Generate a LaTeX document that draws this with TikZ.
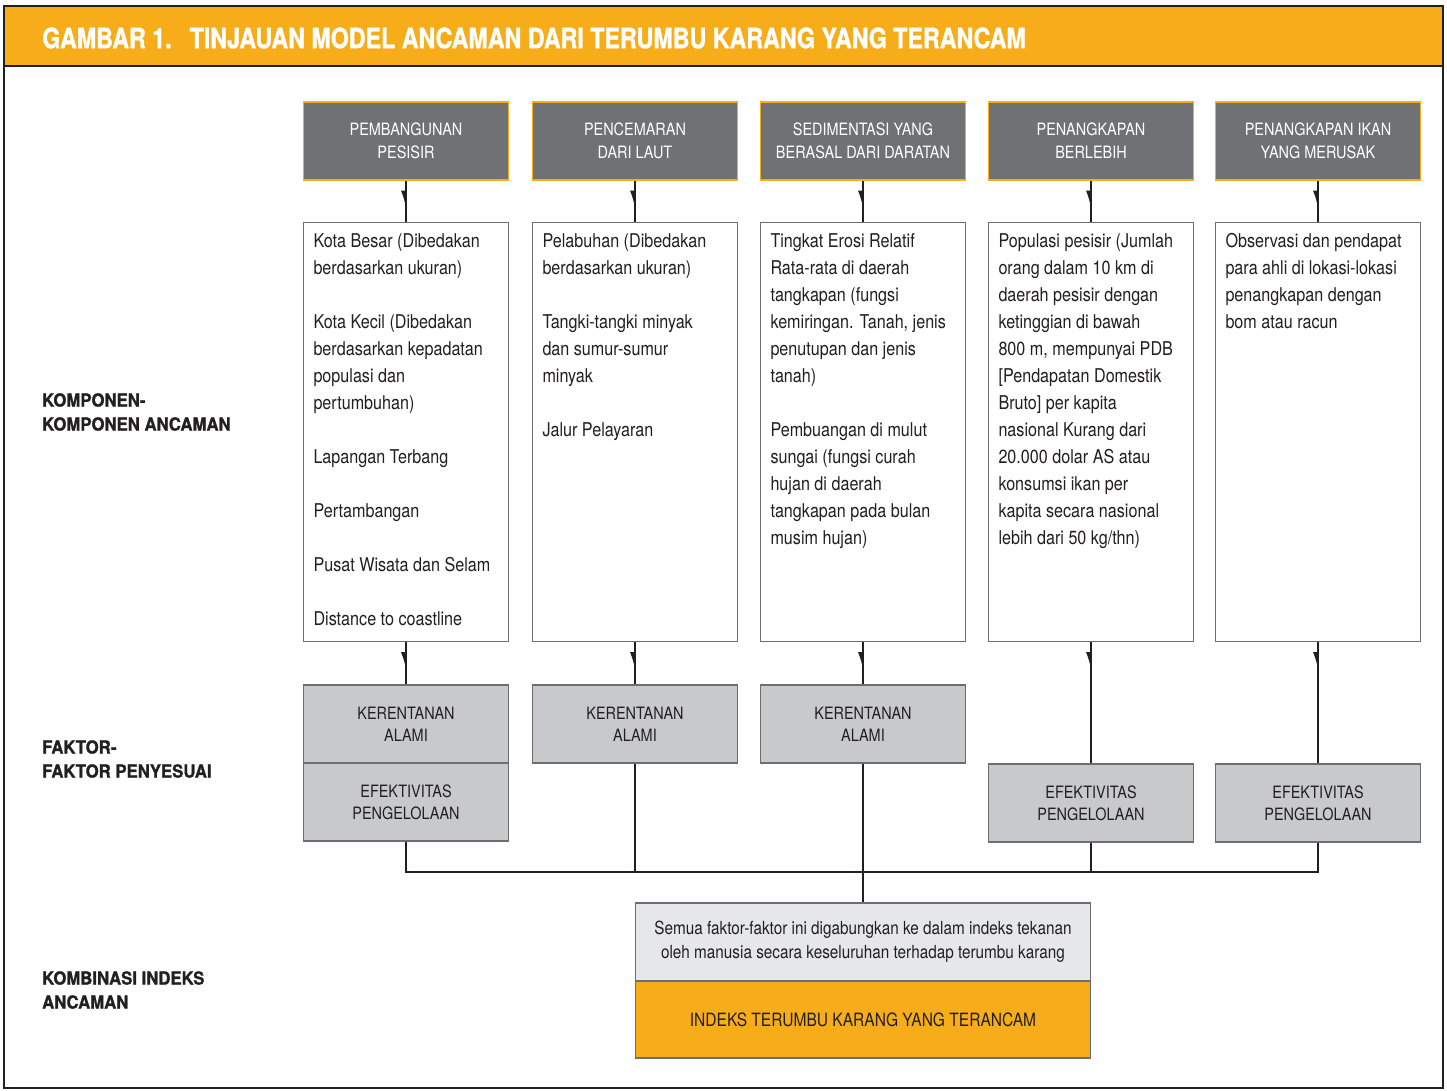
\documentclass[tikz,border=0pt]{standalone}
\usepackage{fontspec}
\setmainfont{TeX Gyre Heros}[FakeStretch=0.85]
\newfontfamily\heavyfont{TeX Gyre Heros}[FakeStretch=0.93,FakeBold=1.2]
\newfontfamily\titlefont{TeX Gyre Heros}[FakeStretch=0.83,FakeBold=1.2]
\usetikzlibrary{arrows.meta,decorations.markings,positioning}

\definecolor{bandorange}{HTML}{F7AD1A}
\definecolor{hdrgray}{HTML}{707174}
\definecolor{boxgray}{HTML}{C8C9CB}
\definecolor{notegray}{HTML}{E6E7E8}
\definecolor{inkdark}{HTML}{231F20}
\definecolor{linegray}{HTML}{6D6E71}

\newcommand{\coltext}[1]{\parbox[c][401pt][t]{185pt}{\vspace*{2pt}\raggedright #1}}

\begin{document}
\begin{tikzpicture}[x=1pt, y=-1pt,
    hdr/.style={draw=bandorange, fill=hdrgray, line width=1.5pt, text=white,
      minimum width=205pt, minimum height=78pt, inner sep=0pt, align=center,
      font=\fontsize{17}{23}\selectfont},
    txt/.style={draw=linegray, fill=white, line width=1.2pt, anchor=north,
      inner xsep=10pt, inner ysep=9pt, text=inkdark,
      font=\fontsize{19}{27}\selectfont},
    adj/.style={draw=linegray, fill=boxgray, line width=1.2pt, text=inkdark,
      minimum width=205pt, minimum height=78pt, inner sep=0pt, align=center,
      font=\fontsize{17}{22}\selectfont},
    side/.style={anchor=west, inner sep=0pt, align=left, text=inkdark,
      font=\heavyfont\bfseries\fontsize{18}{24}\selectfont},
    link/.style={draw=inkdark, line width=1.2pt},
    barb/.style={link, decoration={markings,
      mark=at position 30pt with {\arrow{Latex[harpoon,swap,length=17pt,width=10pt]}}},
      postaction={decorate}}]
  \useasboundingbox (0,0) rectangle (1447,1090);

  % frame and title band
  \fill[bandorange] (4,6) rectangle (1443,66);
  \draw[inkdark, line width=1.3pt] (4,6) rectangle (1443,1088);
  \draw[inkdark, line width=1.3pt] (4,66) -- (1443,66);
  \node[anchor=west, inner sep=0pt, text=white, font=\titlefont\bfseries\fontsize{28}{30}\selectfont]
    (title) at (42,38) {GAMBAR 1.\hspace{18pt}TINJAUAN MODEL ANCAMAN DARI TERUMBU KARANG YANG TERANCAM};

  % row labels
  \node[side] (lab1) at (42,412) {KOMPONEN-\\KOMPONEN ANCAMAN};
  \node[side] (lab2) at (42,759) {FAKTOR-\\FAKTOR PENYESUAI};
  \node[side] (lab3) at (42,990) {KOMBINASI INDEKS\\ANCAMAN};

  % threat headers
  \node[hdr] (h1) at (406,141) {PEMBANGUNAN\\PESISIR};
  \node[hdr] (h2) at (635,141) {PENCEMARAN\\DARI LAUT};
  \node[hdr] (h3) at (863,141) {SEDIMENTASI YANG\\BERASAL DARI DARATAN};
  \node[hdr] (h4) at (1091,141) {PENANGKAPAN\\BERLEBIH};
  \node[hdr] (h5) at (1318,141) {PENANGKAPAN IKAN\\YANG MERUSAK};

  % components
  \node[txt] (t1) at (406,222) {\coltext{Kota Besar (Dibedakan\\berdasarkan ukuran)\\[27pt]
    Kota Kecil (Dibedakan\\berdasarkan kepadatan\\populasi dan\\pertumbuhan)\\[27pt]
    Lapangan Terbang\\[27pt]Pertambangan\\[27pt]Pusat Wisata dan Selam\\[27pt]
    Distance to coastline}};
  \node[txt] (t2) at (635,222) {\coltext{Pelabuhan (Dibedakan\\berdasarkan ukuran)\\[27pt]
    Tangki-tangki minyak\\dan sumur-sumur\\minyak\\[27pt]Jalur Pelayaran}};
  \node[txt] (t3) at (863,222) {\coltext{Tingkat Erosi Relatif\\Rata-rata di daerah\\tangkapan (fungsi\\
    kemiringan. Tanah, jenis\\penutupan dan jenis\\tanah)\\[27pt]
    Pembuangan di mulut\\sungai (fungsi curah\\hujan di daerah\\tangkapan pada bulan\\musim hujan)}};
  \node[txt] (t4) at (1091,222) {\coltext{Populasi pesisir (Jumlah\\orang dalam 10 km di\\
    daerah pesisir dengan\\ketinggian di bawah\\800 m, mempunyai PDB\\{[}Pendapatan Domestik\\
    Bruto] per kapita\\nasional Kurang dari\\20.000 dolar AS atau\\konsumsi ikan per\\
    kapita secara nasional\\lebih dari 50 kg/thn)}};
  \node[txt] (t5) at (1318,222) {\coltext{Observasi dan pendapat\\para ahli di lokasi-lokasi\\
    penangkapan dengan\\bom atau racun}};

  % adjusting factors
  \node[adj] (k1) at (406,724) {KERENTANAN\\ALAMI};
  \node[adj, below=-1.2pt of k1] (e1) {EFEKTIVITAS\\PENGELOLAAN};
  \node[adj] (k2) at (635,724) {KERENTANAN\\ALAMI};
  \node[adj] (k3) at (863,724) {KERENTANAN\\ALAMI};
  \node[adj] (e4) at (1091,803) {EFEKTIVITAS\\PENGELOLAAN};
  \node[adj] (e5) at (1318,803) {EFEKTIVITAS\\PENGELOLAAN};

  % combined index
  \node[adj, fill=notegray, minimum width=455pt, font=\fontsize{18}{24}\selectfont]
    (note) at (863,942) {Semua faktor-faktor ini digabungkan ke dalam indeks tekanan\\
    oleh manusia secara keseluruhan terhadap terumbu karang};
  \node[adj, fill=bandorange, minimum width=455pt, minimum height=77pt,
    font=\fontsize{18.3}{24}\selectfont, below=-1.2pt of note]
    (idx) {INDEKS TERUMBU KARANG YANG TERANCAM};

  % connectors
  \foreach \i in {1,...,5}
    \draw[barb] (h\i.south) -- (t\i.north);
  \foreach \i in {1,2,3}
    \draw[barb] (t\i.south) -- (k\i.north);
  \foreach \i in {4,5}
    \draw[barb] (t\i.south) -- (e\i.north);
  \coordinate (bus) at (863,872);
  \draw[link] (e1.south) |- (bus) -| (e5.south);
  \draw[link] (k2.south) -- (k2.south |- bus);
  \draw[link] (k3.south) -- (note.north);
  \draw[link] (e4.south) -- (e4.south |- bus);
\end{tikzpicture}
\end{document}
